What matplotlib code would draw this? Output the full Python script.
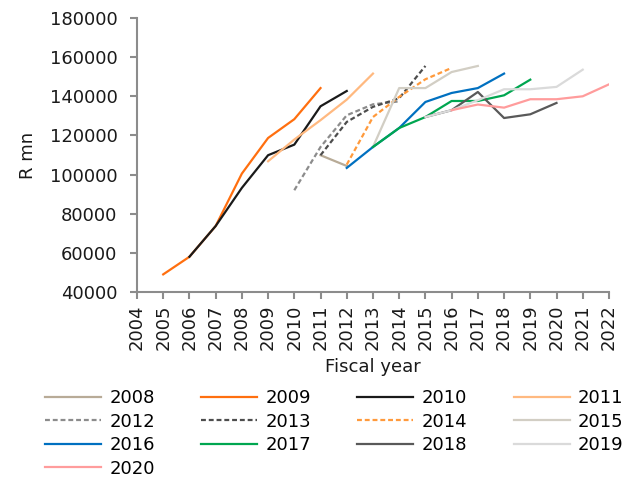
import numpy as np
import matplotlib
matplotlib.use('Agg')
import matplotlib.pyplot as plt

plt.rcParams['font.family'] = ['DejaVu Sans']

# Projections by vintage (fiscal year of the budget), R mn
labels = ['2008', '2009', '2010', '2011', '2012', '2013', '2014',
          '2015', '2016', '2017', '2018', '2019', '2020']
years = [
    [2011, 2012],
    [2005, 2006, 2007, 2008, 2009, 2010, 2011],
    [2006, 2007, 2008, 2009, 2010, 2011, 2012],
    [2009, 2010, 2011, 2012, 2013],
    [2010, 2011, 2012, 2013, 2014],
    [2011, 2012, 2013, 2014, 2015],
    [2012, 2013, 2014, 2015, 2016],
    [2013, 2014, 2015, 2016, 2017],
    [2012, 2013, 2014, 2015, 2016, 2017, 2018],
    [2013, 2014, 2015, 2016, 2017, 2018, 2019],
    [2015, 2016, 2017, 2018, 2019, 2020],
    [2015, 2016, 2017, 2018, 2019, 2020, 2021],
    [2016, 2017, 2018, 2019, 2020, 2021, 2022],
]
values = [
    [109900, 104400],
    [49000, 58000, 73700, 100500, 118700, 128300, 144200],
    [58000, 73700, 93200, 109900, 115300, 134900, 142700],
    [106800, 117900, 127800, 138300, 151600],
    [92000, 114100, 130300, 135900, 137400],
    [109900, 126900, 134600, 139000, 155500],
    [105100, 129400, 139700, 148700, 154500],
    [114100, 144200, 144200, 152400, 155500],
    [103400, 114100, 123800, 137100, 141700, 144200, 151600],
    [114100, 123800, 129400, 137600, 137600, 140500, 148500],
    [129400, 132900, 142200, 128900, 130800, 136600],
    [129400, 132900, 138000, 143600, 143600, 144800, 153600],
    [132900, 135800, 134200, 138500, 138500, 140000, 146100],
]
colors = ['#b8ab97', '#ff6f0f', '#1a1a1a', '#ffb980', '#8c8c8c', '#4d4d4d',
          '#ff9a3c', '#d2cec4', '#0070c0', '#00a650', '#595959', '#dadada',
          '#ff9c9c']
styles = ['-', '-', '-', '-', '--', '--', '--', '-', '-', '-', '-', '-', '-']

fig = plt.figure(figsize=(6.33, 4.79), dpi=100)
ax = fig.add_axes([0.2164, 0.3904, 0.7456, 0.572])

handles = []
for lab, xs, ys, c, ls in zip(labels, years, values, colors, styles):
    h, = ax.plot(xs, ys, color=c, linestyle=ls, linewidth=1.6, label=lab)
    if ls == '--':
        h.set_dashes((2.2, 1.3))
    handles.append(h)

ax.set_xlim(2004, 2022)
ax.set_ylim(40000, 180000)
ax.set_xticks(np.arange(2004, 2023))
ax.set_xticklabels([str(y) for y in range(2004, 2023)], rotation=90)
ax.set_yticks(np.arange(40000, 180001, 20000))

for s in ['top', 'right']:
    ax.spines[s].set_visible(False)
for s in ['left', 'bottom']:
    ax.spines[s].set_color('#8c8c8c')
    ax.spines[s].set_linewidth(1.5)
ax.tick_params(colors='#8c8c8c', labelcolor='#1a1a1a', labelsize=13,
               length=5, width=1.5)
ax.tick_params(axis='y', pad=9)
ax.tick_params(axis='x', pad=4)

fig.text(373 / 633, 1 - 367 / 479, 'Fiscal year', fontsize=13,
         color='#1a1a1a', ha='center', va='center')
fig.text(28 / 633, 1 - 155 / 479, 'R mn', fontsize=13, color='#1a1a1a',
         ha='center', va='center', rotation=90)

# legend filled row by row
order = [0, 4, 8, 12, 1, 5, 9, 2, 6, 10, 3, 7, 11]
fig.legend([handles[i] for i in order], [labels[i] for i in order],
           ncol=4, loc='upper left', bbox_to_anchor=(0.06, 0.203),
           frameon=False, fontsize=13, handlelength=3.1, handletextpad=0.45,
           columnspacing=2.57, labelspacing=0.31, borderaxespad=0)

fig.savefig('out.png', dpi=100)
